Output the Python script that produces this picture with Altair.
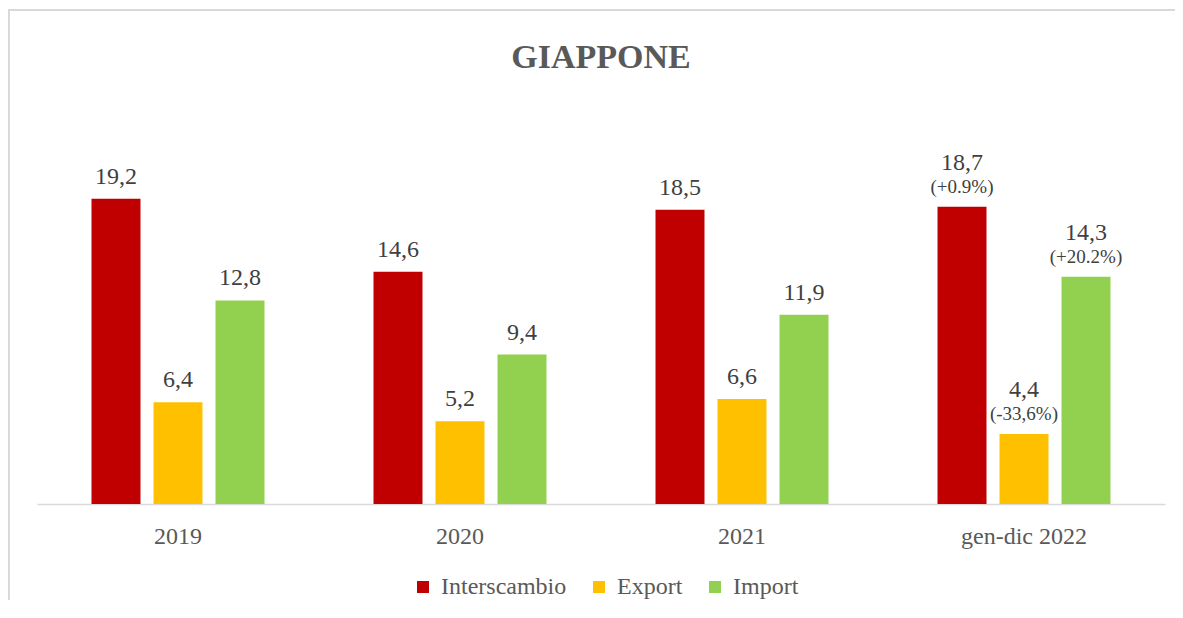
import altair as alt
import pandas as pd

years = ["2019", "2020", "2021", "gen-dic 2022"]
series = ["Interscambio", "Export", "Import"]
interscambio = [19.2, 14.6, 18.5, 18.7]
export = [6.4, 5.2, 6.6, 4.4]
import_ = [12.8, 9.4, 11.9, 14.3]
notes_interscambio = ["", "", "", "(+0.9%)"]
notes_export = ["", "", "", "(-33,6%)"]
notes_import = ["", "", "", "(+20.2%)"]
colors = ["#C00000", "#FFC000", "#92D050"]
title_text = "GIAPPONE"

rows = []
for s, vals, notes in zip(series, [interscambio, export, import_],
                          [notes_interscambio, notes_export, notes_import]):
    for y, v, n in zip(years, vals, notes):
        rows.append({"anno": y, "serie": s, "valore": v,
                     "label": f"{v:.1f}".replace(".", ","), "nota": n,
                     "has_nota": n != ""})
df = pd.DataFrame(rows)

FONT = "Liberation Serif"

x = alt.X("anno:N", sort=years, title=None,
          scale=alt.Scale(paddingInner=0, paddingOuter=0),
          axis=alt.Axis(labelAngle=0, ticks=False, tickSize=0, labelPadding=20,
                        labelFont=FONT, labelFontSize=24, labelColor="#595959",
                        domainColor="#D9D9D9", domainWidth=1.5, grid=False))
xo = alt.XOffset("serie:N", sort=series,
                 scale=alt.Scale(paddingInner=0.21, paddingOuter=0.879))
y = alt.Y("valore:Q", scale=alt.Scale(domain=[0, 20]), axis=None)

base = alt.Chart(df)

bars = base.mark_bar().encode(
    x=x, xOffset=xo, y=y,
    color=alt.Color("serie:N", sort=series,
                    scale=alt.Scale(domain=series, range=colors),
                    legend=alt.Legend(title=None, orient="none", direction="horizontal",
                                      legendX=374, legendY=389, padding=0,
                                      symbolType="square", symbolSize=144,
                                      symbolStrokeWidth=0, labelFont=FONT,
                                      labelFontSize=24, labelColor="#595959",
                                      labelOffset=6, columnPadding=20)),
)

lab_single = base.transform_filter("!datum.has_nota").mark_text(
    dy=-15, baseline="alphabetic", font=FONT, fontSize=24, color="#404040"
).encode(x=x, xOffset=xo, y=y, text="label:N")

lab_double = base.transform_filter("datum.has_nota").mark_text(
    dy=-37, baseline="alphabetic", font=FONT, fontSize=24, color="#404040"
).encode(x=x, xOffset=xo, y=y, text="label:N")

lab_note = base.transform_filter("datum.has_nota").mark_text(
    dy=-14, baseline="alphabetic", font=FONT, fontSize=19, color="#404040"
).encode(x=x, xOffset=xo, y=y, text="nota:N")

one = pd.DataFrame({"t": [title_text]})
title = alt.Chart(one).mark_text(
    font=FONT, fontSize=34, fontWeight="bold", color="#595959",
    baseline="alphabetic", align="center"
).encode(x=alt.value(564), y=alt.value(-118), text="t:N")

frame_top = alt.Chart(one).mark_rule(
    color="#D9D9D9", strokeWidth=2
).encode(x=alt.value(-29), x2=alt.value(1200), y=alt.value(-176))
frame_left = alt.Chart(one).mark_rule(
    color="#D9D9D9", strokeWidth=2
).encode(x=alt.value(-28), y=alt.value(-176), y2=alt.value(500))

chart = alt.layer(frame_top, frame_left, title, bars, lab_single, lab_double, lab_note).properties(
    width=1128, height=318,
    autosize=alt.AutoSizeParams(type="none"),
    padding={"left": 29, "top": 178, "right": 10, "bottom": 96},
).configure_view(stroke=None)

chart.save("out.html", embed_options={"renderer": "svg", "actions": False})
